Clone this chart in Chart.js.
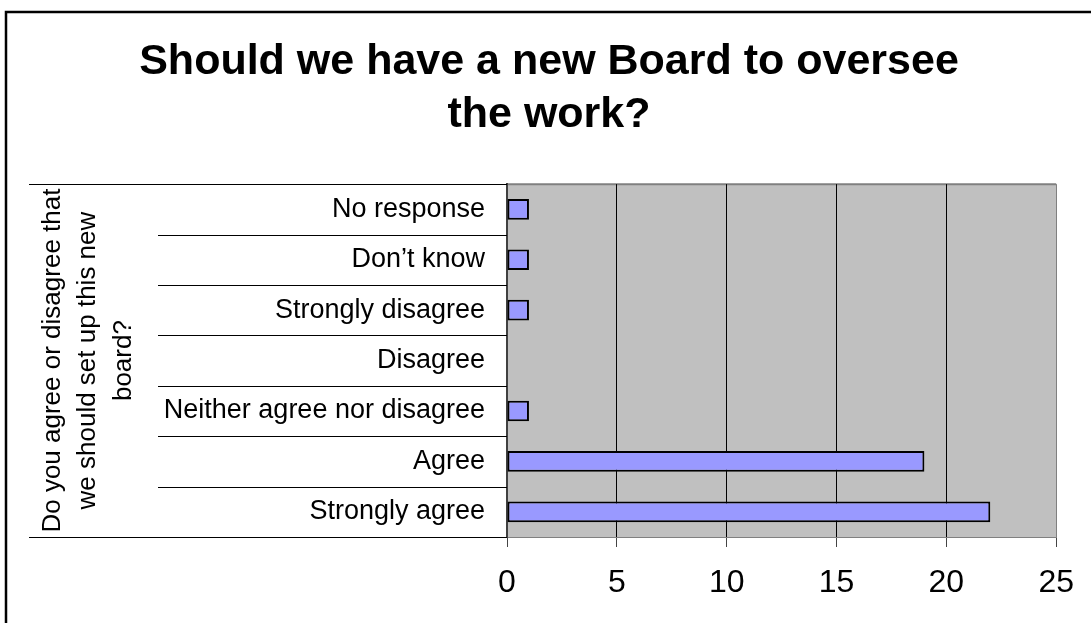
<!DOCTYPE html>
<html>
<head>
<meta charset="utf-8">
<title>New Board survey</title>
<script src="https://cdn.jsdelivr.net/npm/chart.js@4/dist/chart.umd.min.js"></script>
<style>
  html, body { margin: 0; padding: 0; background: #fff; }
  #wrap { width: 1091px; height: 623px; position: relative; }
</style>
</head>
<body>
<div id="wrap"><canvas id="board"></canvas></div>
<script>
// ─── Data ───────────────────────────────────────────────────────────────────
const titleLines = ['Should we have a new Board to oversee', 'the work?'];
const questionLines = ['Do you agree or disagree that', 'we should set up this new', 'board?'];
const categories = ['No response', 'Don’t know', 'Strongly disagree', 'Disagree',
  'Neither agree nor disagree', 'Agree', 'Strongly agree'];
const responses = [1, 1, 1, 0, 1, 19, 22];
const axisMin = 0;
const axisMax = 25;
const axisStep = 5;

const FONT = "'Liberation Sans', Arial, sans-serif";

// gray plot area + outer frame, painted before the scales
const backdrop = {
  id: 'backdrop',
  beforeDraw(chart) {
    const { ctx, chartArea: a } = chart;
    ctx.save();
    ctx.fillStyle = '#fff';
    ctx.fillRect(0, 0, chart.width, chart.height);
    ctx.strokeStyle = '#000';
    ctx.lineWidth = 2.5;
    ctx.strokeRect(6, 12, 2000, 2000);
    ctx.fillStyle = '#c0c0c0';
    ctx.fillRect(a.left, a.top, a.right - a.left, a.bottom - a.top);
    ctx.strokeStyle = '#808080';
    ctx.lineWidth = 2;
    ctx.beginPath();
    ctx.moveTo(a.left, a.top);
    ctx.lineTo(a.right, a.top);
    ctx.stroke();
    ctx.restore();
  }
};

// separator rules between the category labels
const separators = {
  id: 'separators',
  afterDraw(chart) {
    const { ctx } = chart;
    const y = chart.scales.y;
    const right = chart.chartArea.left;
    ctx.save();
    ctx.strokeStyle = '#000';
    ctx.lineWidth = 1;
    for (let i = 0; i <= categories.length; i++) {
      const py = Math.round(y.getPixelForValue(i - 0.5)) + 0.5;
      const outer = i === 0 || i === categories.length;
      ctx.beginPath();
      ctx.moveTo(outer ? 29 : 158, py);
      ctx.lineTo(right, py);
      ctx.stroke();
    }
    ctx.restore();
  }
};

new Chart(document.getElementById('board'), {
  type: 'bar',
  data: {
    labels: categories,
    datasets: [{
      data: responses,
      backgroundColor: '#9999ff',
      borderColor: '#000',
      borderWidth: 2,
      borderSkipped: false,
      barPercentage: 0.41,
      categoryPercentage: 1
    }]
  },
  options: {
    indexAxis: 'y',
    responsive: true,
    maintainAspectRatio: false,
    animation: false,
    layout: { padding: { top: 20, left: 39, right: 32, bottom: 0 } },
    plugins: {
      legend: { display: false },
      tooltip: { enabled: false },
      title: {
        display: true,
        text: titleLines,
        color: '#000',
        font: { family: FONT, size: 43, weight: 'bold', lineHeight: 1.24 },
        padding: { top: 15.5, bottom: 42 }
      }
    },
    scales: {
      x: {
        min: axisMin,
        max: axisMax,
        afterFit(scale) { scale.height = 86; },
        ticks: {
          stepSize: axisStep,
          color: '#000',
          padding: 17,
          font: { family: FONT, size: 32 }
        },
        grid: {
          color: c => (c.tick && c.tick.value === axisMax ? '#808080' : '#000'),
          lineWidth: 1,
          tickLength: 10,
          tickColor: '#444'
        },
        border: { display: true, color: '#808080', width: 1 }
      },
      y: {
        afterFit(scale) { scale.width = 468; },
        ticks: {
          color: '#000',
          padding: 22,
          autoSkip: false,
          font: { family: FONT, size: 27 }
        },
        grid: { display: false, drawTicks: false },
        border: { display: true, color: '#404040', width: 2 },
        title: {
          display: true,
          text: questionLines,
          color: '#000',
          padding: { top: -4, bottom: 0 },
          font: { family: FONT, size: 26, lineHeight: 1.365 }
        }
      }
    }
  },
  plugins: [backdrop, separators]
});
</script>
</body>
</html>
